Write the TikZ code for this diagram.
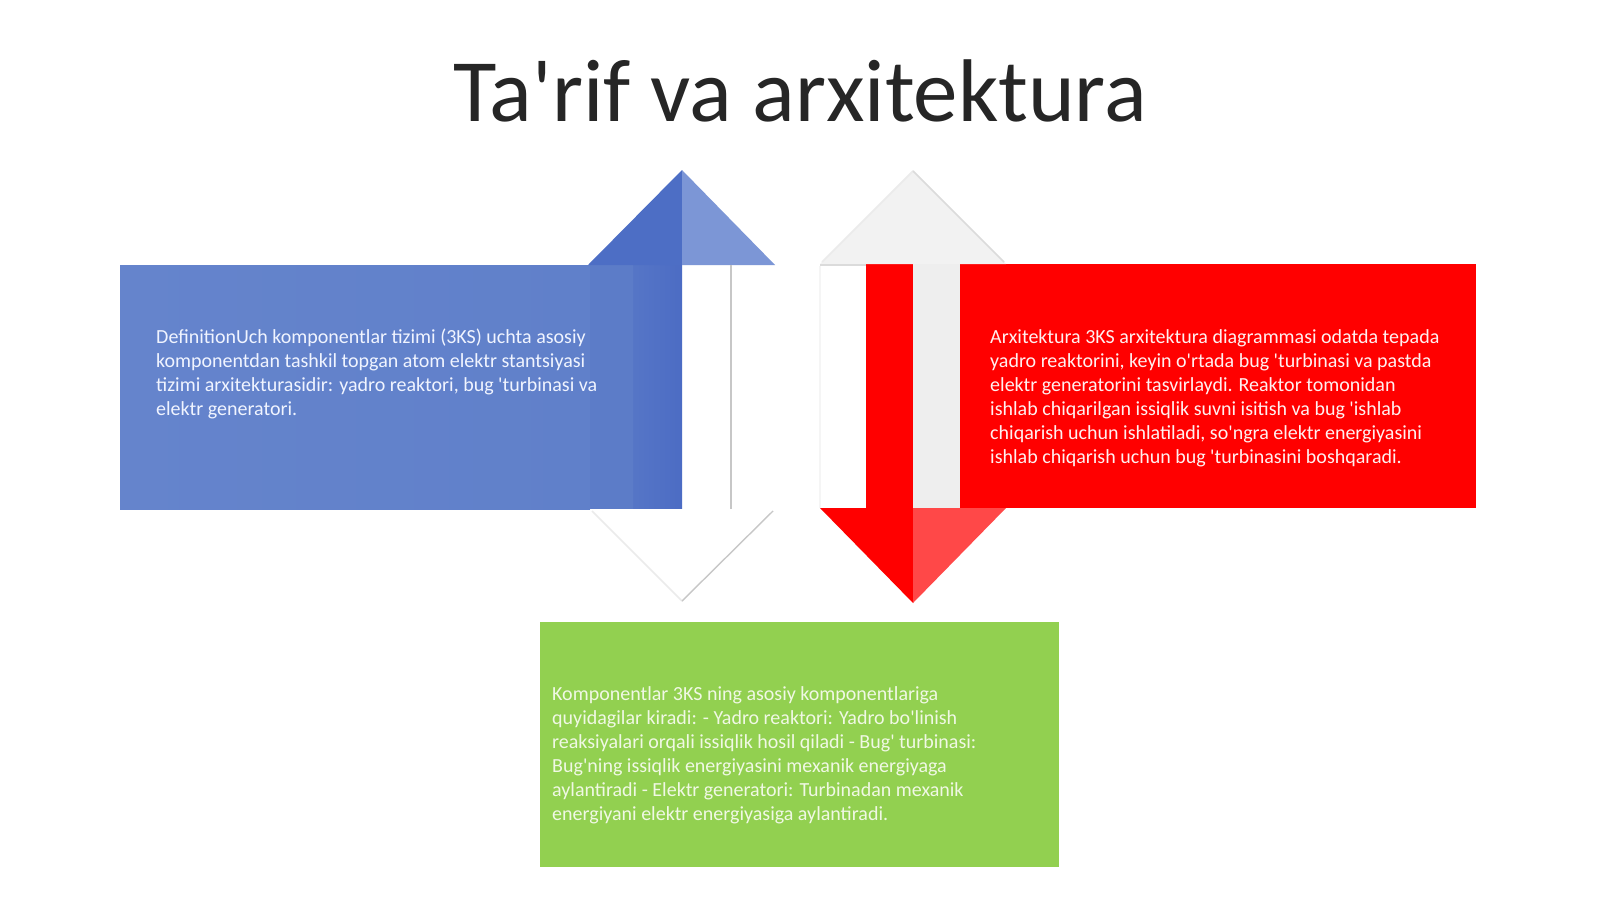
\documentclass[tikz,border=0pt]{standalone}
\usepackage{fontspec}
\setmainfont{Carlito}[Ligatures=TeXOff]
\definecolor{titlecol}{RGB}{38,38,38}
\definecolor{bluemain}{RGB}{96,128,202}
\definecolor{blueleft}{RGB}{101,132,204}
\definecolor{blueband}{RGB}{92,124,200}
\definecolor{bluedark}{RGB}{76,108,196}
\definecolor{bluehead}{RGB}{77,110,197}
\definecolor{bluelight}{RGB}{124,150,214}
\definecolor{redmain}{RGB}{255,0,0}
\definecolor{redlight}{RGB}{255,72,72}
\definecolor{greyshaft}{RGB}{238,238,238}
\definecolor{greyhead}{RGB}{242,242,242}
\definecolor{greenmain}{RGB}{146,208,80}
\definecolor{bluetext}{RGB}{240,244,255}
\definecolor{redtext}{RGB}{255,240,240}
\definecolor{greentext}{RGB}{240,248,228}
\tikzset{
  bodytext/.style={anchor=north west, inner sep=0pt, align=left,
    font=\fontsize{20}{24}\selectfont},
  shadowline/.style={draw=black!22, line width=1.4pt},
  faintline/.style={draw=black!8, line width=1.6pt},
}
\begin{document}
\begin{tikzpicture}[x=1pt,y=-1pt]
\useasboundingbox (0,0) rectangle (1600,899);
\fill[white] (0,0) rectangle (1600,899);

% title
\node[anchor=base, inner sep=0pt, text=titlecol, font=\fontsize{89}{89}\selectfont] (title) at (800,121) {Ta'rif va arxitektura};

% ---------- blue part ----------
\shade[left color=blueleft, right color=bluemain] (120,265) rectangle (590,509);
\fill[blueband] (590,265) rectangle (633,509);
\shade[left color=blueband!60!bluedark, right color=bluedark] (633,265) rectangle (682,509);
\fill[bluehead] (588,265) -- (682,170) -- (682,265) -- cycle;
\fill[bluelight] (682,170) -- (775,265) -- (682,265) -- cycle;
% white shaft edge
\draw[shadowline] (731,265) -- (731,509);
% white down head
\fill[white] (590,509) -- (682,603) -- (775,509) -- cycle;
\draw[faintline] (592,511) -- (682,601);
\draw[shadowline] (682,601) -- (773,511);

% ---------- red part ----------
\fill[redmain] (960,264) rectangle (1476,508);
\fill[redmain] (866,264) rectangle (913,508);
\fill[greyshaft] (913,264) rectangle (960,508);
\fill[redmain] (820,508) -- (913,603) -- (913,508) -- cycle;
\fill[redlight] (913,508) -- (1006,508) -- (913,603) -- cycle;
\fill[greyhead] (820,264) -- (913,170) -- (1006,264) -- cycle;
\draw[faintline] (822,262) -- (913,171);
\draw[draw=black!14, line width=1.6pt] (913,171) -- (1004,262);
\draw[draw=black!14, line width=1.2pt] (820,265) -- (866,265);
\draw[draw=black!4, line width=1.2pt] (820,266) -- (820,508);

% ---------- green part ----------
\fill[greenmain] (540,622) rectangle (1059,867);

% texts
\node[bodytext, text=bluetext] (deftext) at (156,327) {\rule{0pt}{16pt}DefinitionUch komponentlar tizimi (3KS) uchta asosiy\\
komponentdan tashkil topgan atom elektr stantsiyasi\\
tizimi arxitekturasidir: yadro reaktori, bug 'turbinasi va\\
elektr generatori.};

\node[bodytext, text=redtext] (archtext) at (990,327) {\rule{0pt}{16pt}Arxitektura 3KS arxitektura diagrammasi odatda tepada\\
yadro reaktorini, keyin o'rtada bug 'turbinasi va pastda\\
elektr generatorini tasvirlaydi. Reaktor tomonidan\\
ishlab chiqarilgan issiqlik suvni isitish va bug 'ishlab\\
chiqarish uchun ishlatiladi, so'ngra elektr energiyasini\\
ishlab chiqarish uchun bug 'turbinasini boshqaradi.};

\node[bodytext, text=greentext] (comptext) at (552,684) {\rule{0pt}{16pt}Komponentlar 3KS ning asosiy komponentlariga\\
quyidagilar kiradi: - Yadro reaktori: Yadro bo'linish\\
reaksiyalari orqali issiqlik hosil qiladi - Bug' turbinasi:\\
Bug'ning issiqlik energiyasini mexanik energiyaga\\
aylantiradi - Elektr generatori: Turbinadan mexanik\\
energiyani elektr energiyasiga aylantiradi.};
\end{tikzpicture}
\end{document}
